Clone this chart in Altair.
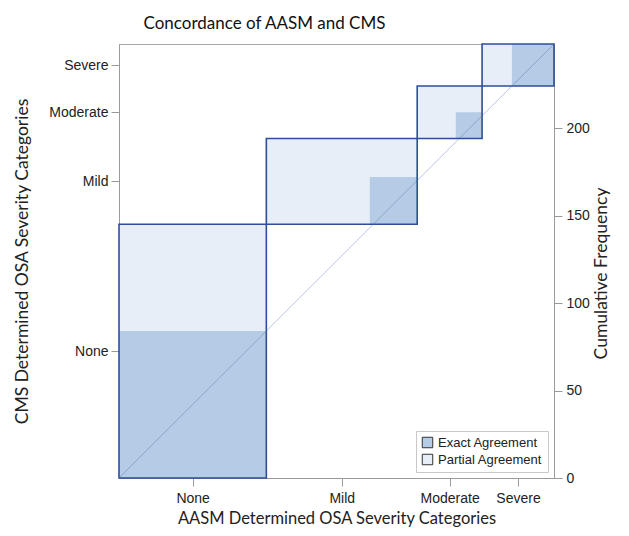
import altair as alt
import pandas as pd

categories = ["None", "Mild", "Moderate", "Severe"]
# cumulative boundaries (frequency units)
aasm_cum = [0, 84, 170, 207, 248]   # AASM (x) column totals cumulated
cms_cum = [0, 145, 194, 224, 248]   # CMS (y) row totals cumulated
# exact agreement squares (diagonal counts) and their lower-left corners
exact_n = [84, 27, 15, 24]
exact_x0 = [0, 143, 192, 224]
exact_y0 = [0, 145, 194, 224]

N = aasm_cum[-1]

rows = []
for i, c in enumerate(categories):
    rows.append(dict(cat=c, kind="Partial Agreement", x=aasm_cum[i], x2=aasm_cum[i + 1],
                     y=cms_cum[i], y2=cms_cum[i + 1]))
rects = pd.DataFrame(rows)
exact = pd.DataFrame(dict(cat=categories, kind="Exact Agreement", x=exact_x0,
                          x2=[a + n for a, n in zip(exact_x0, exact_n)],
                          y=exact_y0, y2=[a + n for a, n in zip(exact_y0, exact_n)]))
diag = pd.DataFrame(dict(x=[0], y=[0], x2=[N], y2=[N]))

xmid = [(aasm_cum[i] + aasm_cum[i + 1]) / 2 for i in range(4)]
ymid = [(cms_cum[i] + cms_cum[i + 1]) / 2 for i in range(4)]

def label_expr(mids):
    expr = "''"
    for m, c in reversed(list(zip(mids, categories))):
        expr = f"datum.value == {m} ? '{c}' : ({expr})"
    return expr

dom = [0, N]
W, H = 435, 434

fill_scale = alt.Scale(domain=["Exact Agreement", "Partial Agreement"],
                       range=["#b6cbe5", "#e7eef8"])

axis_common = dict(domainColor="#9a9a9a", tickColor="#9a9a9a", tickSize=8,
                   labelFont="Liberation Sans", labelFontSize=14, labelColor="#222222",
                   titleFont="Lato", titleFontWeight="normal",
                   titleColor="#222222", grid=False)

x_axis = alt.Axis(values=xmid, labelExpr=label_expr(xmid), labelPadding=5,
                  titlePadding=5, titleFontSize=16.5, **axis_common)
y_axis = alt.Axis(orient="left", values=ymid, labelExpr=label_expr(ymid),
                  labelPadding=3, titleFontSize=17.5, titleX=-97, titleY=H / 2,
                  titleAlign="center", titleBaseline="middle", **axis_common)
XT = "AASM Determined OSA Severity Categories"
YT = "CMS Determined OSA Severity Categories"


def enc_xy():
    return dict(
        x=alt.X("x:Q", scale=alt.Scale(domain=dom, nice=False, zero=False), title=XT, axis=x_axis),
        x2="x2:Q",
        y=alt.Y("y:Q", scale=alt.Scale(domain=dom, nice=False, zero=False), title=YT, axis=y_axis),
        y2="y2:Q",
    )


legend = alt.Legend(title=None)

partial = alt.Chart(rects).mark_rect().encode(
    fill=alt.Fill("kind:N", scale=fill_scale, legend=legend), **enc_xy())

exact_layer = alt.Chart(exact).mark_rect().encode(
    fill=alt.Fill("kind:N", scale=fill_scale, legend=legend), **enc_xy())

outline = alt.Chart(rects).mark_rect(fillOpacity=0, stroke="#2e4f98", strokeWidth=1.6).encode(**enc_xy())

diag_layer = alt.Chart(diag).mark_rule(color="#4a6fb0", opacity=0.4, strokeWidth=1).encode(**enc_xy())

right_axis = alt.Chart(diag).mark_rule(opacity=0).encode(
    y=alt.Y("y:Q", scale=alt.Scale(domain=dom, nice=False, zero=False),
            title="Cumulative Frequency",
            axis=alt.Axis(orient="right", values=[0, 50, 100, 150, 200], labelPadding=4,
                          titleFontSize=17.5, titleAngle=270, titleX=47, titleY=H / 2 + 12,
                          titleAlign="center", titleBaseline="middle", **axis_common)),
)

left = alt.layer(partial, exact_layer, outline, diag_layer)
chart = alt.layer(left, right_axis).resolve_scale(y="independent").resolve_axis(y="independent").properties(
    width=W, height=H,
    title=alt.Title("Concordance of AASM and CMS", font="Lato", fontSize=17,
                    fontWeight="normal", color="#111111", offset=10, dx=-72),
    autosize=alt.AutoSizeParams(type="none"),
    padding={"left": 111, "top": 36, "right": 62, "bottom": 50},
).configure_view(stroke="#a8a8a8", strokeWidth=1).configure_legend(
    orient="bottom-right", offset=6, padding=5, fillColor="white", strokeColor="#c8c8c8",
    symbolType="square", symbolSize=110, symbolStrokeColor="#333333", symbolStrokeWidth=1,
    labelFont="Liberation Sans", labelFontSize=13, labelColor="#222222", rowPadding=2,
    symbolOpacity=1,
)

chart.save("out.html", embed_options={"renderer": "svg", "actions": False})
